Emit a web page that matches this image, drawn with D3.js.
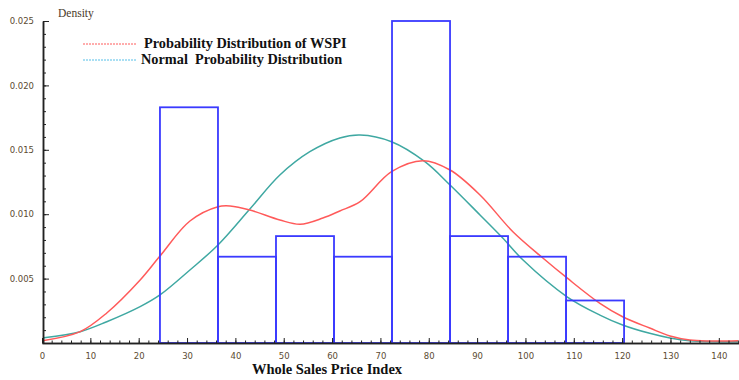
<!DOCTYPE html>
<html>
<head>
<meta charset="utf-8">
<script src="https://cdn.jsdelivr.net/npm/d3@7"></script>
<style>
  body { margin:0; background:#fff; }
  svg { display:block; }
  .tick-label { font-family:"DejaVu Sans", sans-serif; font-size:8.5px; fill:#5b4b32; }
  .bold-serif { font-family:"Liberation Serif", "Times New Roman", serif; font-weight:bold; fill:#111; }
</style>
</head>
<body>
<svg></svg>
<script>
// histogram of WSPI (density)
var binEdges = [24.4, 36.4, 48.4, 60.4, 72.4, 84.4, 96.4, 108.4, 120.4];
var binDensity = [0.0183, 0.0067, 0.0083, 0.0067, 0.025, 0.0083, 0.0067, 0.0033];

// kernel density estimate of WSPI
var wspiX = [0.4, 7.9, 13.4, 20.3, 24.4, 30.6, 36.4, 38.9, 43, 49.2, 53.4, 58.1, 61.6, 65.8, 72.3, 78.8, 84.4, 90.6, 97.4, 103.6, 108.6, 115.4, 120.1, 125.7, 129.9, 134, 138.1, 144];
var wspiY = [0.0002, 0.00088, 0.00233, 0.00489, 0.00675, 0.00947, 0.01058, 0.01064, 0.01033, 0.00955, 0.00922, 0.0097, 0.01025, 0.01097, 0.0133, 0.01415, 0.01343, 0.01149, 0.00864, 0.0066, 0.00505, 0.00308, 0.00204, 0.00116, 0.00054, 0.00023, 0.00016, 0.00018];

// fitted normal curve
var normX = [0.4, 7.9, 13.4, 20.3, 24.4, 30.6, 36.4, 43, 49.2, 55.4, 61.6, 65.8, 72.3, 79.2, 84.4, 90.6, 95.3, 99.5, 108.6, 115.4, 120.1, 125.7, 129.9, 134, 144];
var normY = [0.0004, 0.00088, 0.00165, 0.00282, 0.00373, 0.00567, 0.00761, 0.0104, 0.01304, 0.01485, 0.01592, 0.01615, 0.01563, 0.01408, 0.01227, 0.00994, 0.00815, 0.00644, 0.00359, 0.00217, 0.0014, 0.00075, 0.00039, 0.00018, 0.0001];

var xTickValues = [0, 10, 20, 30, 40, 50, 60, 70, 80, 90, 100, 110, 120, 130, 140];
var yTickValues = [0.005, 0.010, 0.015, 0.020, 0.025];
var yTickLabels = ["0.005", "0.010", "0.015", "0.020", "0.025"];

var legendLabels = ["Probability Distribution of WSPI", "Normal\u00a0 Probability Distribution"];

var screen = { width: 739, height: 380 };

var svg = d3.select('svg')
  .attr('width', screen.width)
  .attr('height', screen.height);

var xScale = d3.scaleLinear()
  .domain([0, 145])
  .range([42, 743]);
var yScale = d3.scaleLinear()
  .domain([0, 0.025])
  .range([343, 21]);

var curveLine = d3.line()
  .x(function(d){ return xScale(d[0]); })
  .y(function(d){ return yScale(d[1]); })
  .curve(d3.curveCatmullRom);

var wspi = wspiX.map(function(x, i){ return [x, wspiY[i]]; });
var norm = normX.map(function(x, i){ return [x, normY[i]]; });

// curves
svg.append('path')
  .datum(norm)
  .attr('d', curveLine)
  .attr('fill', 'none')
  .attr('stroke', '#3fa8a2')
  .attr('stroke-width', 1.5);
svg.append('path')
  .datum(wspi)
  .attr('d', curveLine)
  .attr('fill', 'none')
  .attr('stroke', '#ff5a5a')
  .attr('stroke-width', 1.5);

// histogram bars
var bins = binDensity.map(function(v, i){ return { x0: binEdges[i], x1: binEdges[i+1], v: v }; });
svg.append('g').selectAll('rect')
  .data(bins)
  .enter().append('rect')
  .attr('x', function(d){ return xScale(d.x0); })
  .attr('width', function(d){ return xScale(d.x1) - xScale(d.x0); })
  .attr('y', function(d){ return yScale(d.v); })
  .attr('height', function(d){ return yScale(0) - yScale(d.v); })
  .attr('fill', 'none')
  .attr('stroke', '#3a3aff')
  .attr('stroke-width', 1.8);

// x axis
var xAxis = d3.axisBottom(xScale)
  .tickValues(xTickValues)
  .tickSizeInner(-5)
  .tickSizeOuter(0)
  .tickPadding(10)
  .tickFormat(d3.format('d'));
var xMinor = d3.axisBottom(xScale)
  .tickValues(d3.range(0, 145, 2))
  .tickSizeInner(-2.5)
  .tickSizeOuter(0)
  .tickFormat('');
svg.append('g').attr('transform', 'translate(0,' + yScale(0) + ')').call(xMinor);
var xg = svg.append('g').attr('transform', 'translate(0,' + yScale(0) + ')').call(xAxis);
xg.selectAll('text').attr('class', 'tick-label').attr('font-family', null).attr('font-size', null);

// y axis
var yAxis = d3.axisLeft(yScale)
  .tickValues(yTickValues)
  .tickSizeInner(-6)
  .tickSizeOuter(0)
  .tickPadding(9)
  .tickFormat(function(d, i){ return yTickLabels[i]; });
var yMinor = d3.axisLeft(yScale)
  .tickValues(d3.range(0, 0.0251, 0.001))
  .tickSizeInner(-3)
  .tickSizeOuter(0)
  .tickFormat('');
svg.append('g').attr('transform', 'translate(43,0)').call(yMinor);
var yg = svg.append('g').attr('transform', 'translate(43,0)').call(yAxis);
yg.selectAll('text').attr('class', 'tick-label').attr('font-family', null).attr('font-size', null);

svg.selectAll('.domain').attr('stroke', '#222').attr('stroke-width', 1.5);
svg.selectAll('.tick line').attr('stroke', '#222');

// labels
svg.append('text')
  .attr('x', 58).attr('y', 17)
  .attr('font-family', 'Liberation Serif, serif')
  .attr('font-size', 11.5)
  .attr('fill', '#4a3a2a')
  .text('Density');

svg.append('text')
  .attr('class', 'bold-serif')
  .attr('x', 327).attr('y', 374)
  .attr('text-anchor', 'middle')
  .attr('font-size', 14.5)
  .text('Whole Sales Price Index');

// legend
var legendColors = ['#ff5a5a', '#55bfe8'];
var legend = svg.append('g');
legendLabels.forEach(function(t, i){
  var y = 44 + i * 16;
  legend.append('line')
    .attr('x1', 83).attr('x2', 137)
    .attr('y1', y).attr('y2', y)
    .attr('stroke', legendColors[i])
    .attr('stroke-width', 1)
    .attr('stroke-dasharray', '2,1');
  legend.append('text')
    .attr('class', 'bold-serif')
    .attr('x', i == 0 ? 144 : 141).attr('y', y + 4)
    .attr('font-size', 14.3)
    .text(t);
});
</script>
</body>
</html>
